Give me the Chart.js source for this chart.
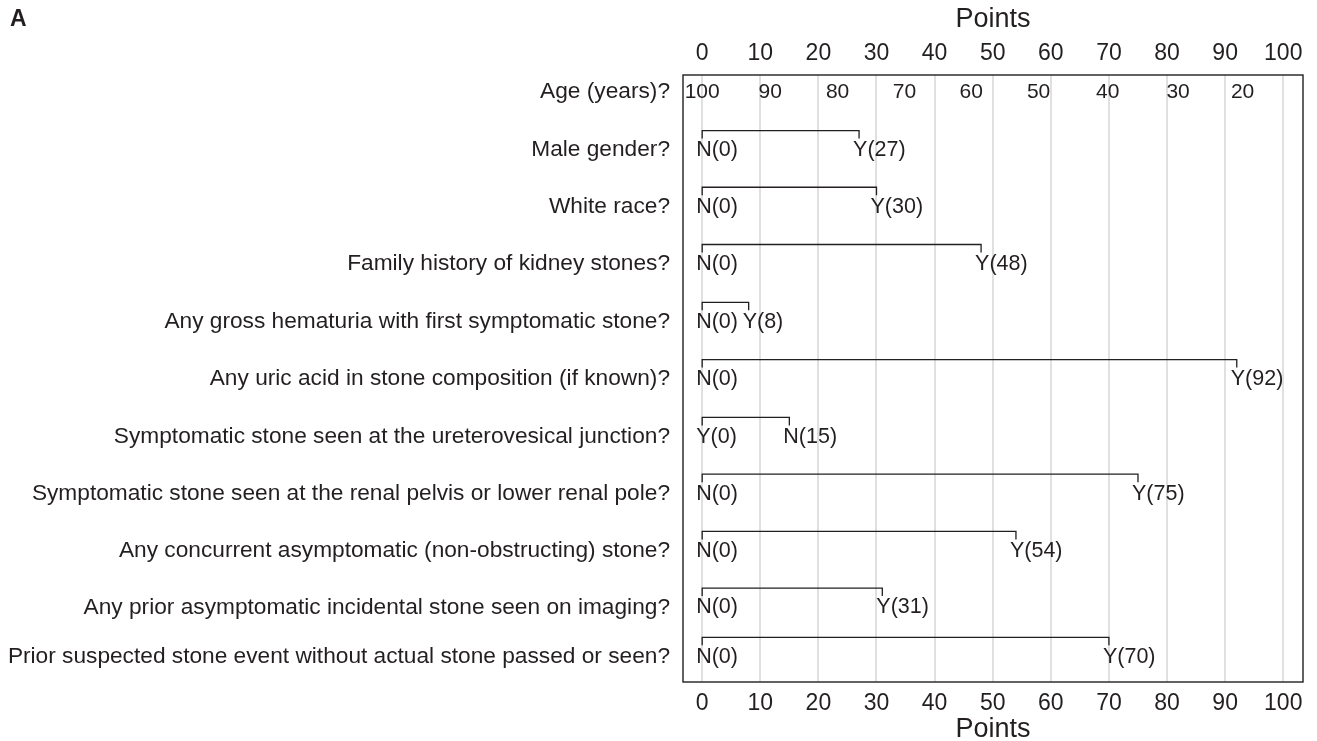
<!DOCTYPE html>
<html lang="en">

<head>
    <meta charset="UTF-8">
    <title>Nomogram</title>
    <style>
        html, body { margin: 0; padding: 0; background: #fff; }
        #wrap { width: 1317px; height: 741px; }
    </style>
</head>

<body>
    <div id="wrap">
        <canvas id="myChart" width="1317" height="741"></canvas>
    </div>

    <script src="https://cdn.jsdelivr.net/npm/chart.js"></script>

    <script>
        // row questions (top to bottom)
        const rowLabels = [
            "Age (years)?",
            "Male gender?",
            "White race?",
            "Family history of kidney stones?",
            "Any gross hematuria with first symptomatic stone?",
            "Any uric acid in stone composition (if known)?",
            "Symptomatic stone seen at the ureterovesical junction?",
            "Symptomatic stone seen at the renal pelvis or lower renal pole?",
            "Any concurrent asymptomatic (non-obstructing) stone?",
            "Any prior asymptomatic incidental stone seen on imaging?",
            "Prior suspected stone event without actual stone passed or seen?"
        ];
        // vertical position of each row (row units)
        const rowPos = [0.30, 1.31, 2.30, 3.30, 4.31, 5.31, 6.32, 7.31, 8.31, 9.30, 10.16];

        // binary predictors (rows 1..10)
        const lowNames = ["N", "N", "N", "N", "N", "Y", "N", "N", "N", "N"];
        const lowPoints = [0, 0, 0, 0, 0, 0, 0, 0, 0, 0];
        const highNames = ["Y", "Y", "Y", "Y", "Y", "N", "Y", "Y", "Y", "Y"];
        const highPoints = [27, 30, 48, 8, 92, 15, 75, 54, 31, 70];

        // age scale (row 0)
        const ageLabels = [100, 90, 80, 70, 60, 50, 40, 30, 20];
        const agePoints = [0, 11.7, 23.3, 34.8, 46.3, 57.9, 69.8, 81.9, 93];

        // points axis
        const pointTicks = [0, 10, 20, 30, 40, 50, 60, 70, 80, 90, 100];

        const FONT = "'Liberation Sans', Arial, sans-serif";
        const INK = "#231f20";
        const bracketUp = 0.34;   // bracket line above the text row
        const bracketDrop = 0.14; // length of the end ticks

        let v_datasets = [];
        for (let i = 0; i < highPoints.length; i++) {
            let y = rowPos[i + 1] - bracketUp;
            v_datasets.push({
                data: [
                    { x: lowPoints[i], y: y + bracketDrop },
                    { x: lowPoints[i], y: y },
                    { x: highPoints[i], y: y },
                    { x: highPoints[i], y: y + bracketDrop }
                ],
                borderColor: INK,
                borderWidth: 1.3,
                pointRadius: 0,
                fill: false,
                tension: 0
            });
        }

        // labels drawn inside the plot: N(0)/Y(27) and age values
        const textPlugin = {
            id: "nomoText",
            afterDatasetsDraw(chart) {
                const ctx = chart.ctx;
                const xs = chart.scales.x;
                const ys = chart.scales.y;
                const a = chart.chartArea;

                ctx.save();
                // box
                ctx.strokeStyle = INK;
                ctx.lineWidth = 1.4;
                ctx.strokeRect(a.left, a.top, a.right - a.left, a.bottom - a.top);

                ctx.fillStyle = INK;
                ctx.font = "21px " + FONT;
                ctx.textBaseline = "middle";

                // age row
                ctx.textAlign = "center";
                for (let i = 0; i < ageLabels.length; i++) {
                    ctx.fillText(String(ageLabels[i]), xs.getPixelForValue(agePoints[i]), ys.getPixelForValue(rowPos[0]));
                }

                // binary rows
                ctx.font = "21.5px " + FONT;
                ctx.textAlign = "left";
                for (let i = 0; i < highPoints.length; i++) {
                    let py = ys.getPixelForValue(rowPos[i + 1]);
                    ctx.fillText(lowNames[i] + "(" + lowPoints[i] + ")", xs.getPixelForValue(lowPoints[i]) - 6, py);
                    ctx.fillText(highNames[i] + "(" + highPoints[i] + ")", xs.getPixelForValue(highPoints[i]) - 6, py);
                }

                // panel letter
                ctx.font = "bold 23px " + FONT;
                ctx.textBaseline = "alphabetic";
                ctx.fillText("A", 10, 26);
                ctx.restore();
            }
        };

        const ctx = document.getElementById("myChart");

        let v_chart = new Chart(ctx, {
            type: "line",
            data: { datasets: v_datasets },
            plugins: [textPlugin],
            options: {
                responsive: false,
                animation: false,
                layout: { padding: { left: 0, right: 14, top: 0, bottom: 0 } },
                plugins: {
                    legend: { display: false },
                    tooltip: { enabled: false }
                },
                scales: {
                    x: {
                        type: "linear",
                        position: "bottom",
                        min: -3.3,
                        max: 103.4,
                        afterBuildTicks: (s) => { s.ticks = pointTicks.map(v => ({ value: v })); },
                        afterFit: (s) => { s.height = 59; },
                        grid: { color: "#e0e0e0", lineWidth: 2, drawTicks: false },
                        border: { display: false },
                        ticks: { color: INK, font: { size: 23, family: FONT }, padding: 8, maxRotation: 0, autoSkip: false },
                        title: { display: true, text: "Points", color: INK, font: { size: 27, family: FONT, lineHeight: 1 }, padding: { top: 0, bottom: -2 } }
                    },
                    x2: {
                        type: "linear",
                        position: "top",
                        min: -3.3,
                        max: 103.4,
                        afterBuildTicks: (s) => { s.ticks = pointTicks.map(v => ({ value: v })); },
                        afterFit: (s) => { s.height = 75; },
                        grid: { display: false, drawTicks: false },
                        border: { display: false },
                        ticks: { color: INK, font: { size: 23, family: FONT }, padding: 8, maxRotation: 0, autoSkip: false },
                        title: { display: true, text: "Points", color: INK, font: { size: 27, family: FONT, lineHeight: 1 }, padding: { top: 6, bottom: 0 } }
                    },
                    y: {
                        type: "linear",
                        reverse: true,
                        min: 0,
                        max: 10.6,
                        afterBuildTicks: (s) => { s.ticks = rowPos.map(v => ({ value: v })); },
                        afterFit: (s) => { s.width = 683; },
                        grid: { display: false, drawTicks: false },
                        border: { display: false },
                        ticks: {
                            color: INK,
                            font: { size: 22.7, family: FONT },
                            padding: 13,
                            autoSkip: false,
                            callback: (v, i) => rowLabels[i]
                        }
                    }
                }
            }
        });
    </script>
</body>

</html>
